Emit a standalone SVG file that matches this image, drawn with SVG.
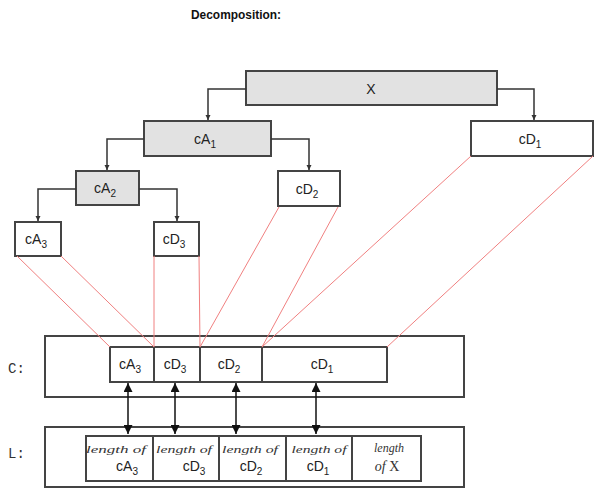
<svg xmlns="http://www.w3.org/2000/svg" width="595" height="489" viewBox="0 0 595 489">
<defs>
<marker id="ah" viewBox="0 0 10 10" refX="10" refY="5" markerWidth="5" markerHeight="6" orient="auto" markerUnits="userSpaceOnUse"><path d="M0,0 L10,5 L0,10 z" fill="#333"/></marker>
<marker id="bh" viewBox="0 0 10 10" refX="10" refY="5" markerWidth="10" markerHeight="9" orient="auto-start-reverse" markerUnits="userSpaceOnUse"><path d="M0,0 L10,5 L0,10 z" fill="#111"/></marker>
<style>
.g{fill:#e2e2e2;stroke:#444;stroke-width:2}
.w{fill:#fff;stroke:#444;stroke-width:2}
.t{font-family:"Liberation Sans Narrow","Liberation Sans",Arial,sans-serif;font-size:14px;fill:#222;text-anchor:middle}
.s{font-size:10px}
.c{fill:none;stroke:#333;stroke-width:1.5}
.r{stroke:#f08080;stroke-width:1;fill:none}
.d{stroke:#111;stroke-width:1.5;fill:none}
.i{font-family:"Liberation Serif",serif;font-style:italic;font-size:11px;fill:#333;text-anchor:middle}
.m{font-family:"Liberation Mono",monospace;font-size:14px;fill:#333}
</style>
</defs>
<rect width="595" height="489" fill="#fff"/>
<text x="236" y="19" font-family="Liberation Sans,Arial,sans-serif" font-weight="bold" font-size="12" text-anchor="middle" textLength="90" lengthAdjust="spacingAndGlyphs" fill="#111">Decomposition:</text>

<g id="X"><rect class="g" x="246" y="71" width="251" height="34"/><text class="t" x="371" y="94">X</text></g>
<g id="cA1"><rect class="g" x="144" y="121" width="127" height="35"/><text class="t" x="205" y="144">cA<tspan class="s" dy="4">1</tspan></text></g>
<g id="cD1"><rect class="w" x="471" y="121" width="122" height="35"/><text class="t" x="530" y="144">cD<tspan class="s" dy="4">1</tspan></text></g>
<g id="cA2"><rect class="g" x="76" y="171" width="63" height="34"/><text class="t" x="105" y="193">cA<tspan class="s" dy="4">2</tspan></text></g>
<g id="cD2"><rect class="w" x="278" y="171" width="62" height="35"/><text class="t" x="307" y="194">cD<tspan class="s" dy="4">2</tspan></text></g>
<g id="cA3"><rect class="w" x="15" y="222" width="46" height="34"/><text class="t" x="36" y="244">cA<tspan class="s" dy="4">3</tspan></text></g>
<g id="cD3"><rect class="w" x="154" y="222" width="45" height="34"/><text class="t" x="174" y="244">cD<tspan class="s" dy="4">3</tspan></text></g>

<g id="C">
<text class="m" x="8" y="373">C:</text>
<rect class="w" x="45" y="336" width="419" height="61"/>
<rect class="w" x="110" y="347" width="44" height="35"/>
<rect class="w" x="154" y="347" width="46" height="35"/>
<rect class="w" x="200" y="347" width="62" height="35"/>
<rect class="w" x="262" y="347" width="125" height="35"/>
<text class="t" x="130" y="369">cA<tspan class="s" dy="4">3</tspan></text>
<text class="t" x="175" y="369">cD<tspan class="s" dy="4">3</tspan></text>
<text class="t" x="229" y="369">cD<tspan class="s" dy="4">2</tspan></text>
<text class="t" x="322" y="369">cD<tspan class="s" dy="4">1</tspan></text>
</g>

<g id="L">
<text class="m" x="8" y="458">L:</text>
<rect class="w" x="45" y="427" width="419" height="60"/>
<rect class="w" x="86" y="436" width="67" height="45"/>
<rect class="w" x="153" y="436" width="66" height="45"/>
<rect class="w" x="219" y="436" width="67" height="45"/>
<rect class="w" x="286" y="436" width="66" height="45"/>
<rect class="w" x="352" y="436" width="69" height="45"/>
<text class="i" x="116" y="453" textLength="60" lengthAdjust="spacingAndGlyphs">length of</text>
<text class="t" x="127" y="471">cA<tspan class="s" dy="4">3</tspan></text>
<text class="i" x="184" y="453" textLength="56" lengthAdjust="spacingAndGlyphs">length of</text>
<text class="t" x="194" y="471">cD<tspan class="s" dy="4">3</tspan></text>
<text class="i" x="250" y="453" textLength="56" lengthAdjust="spacingAndGlyphs">length of</text>
<text class="t" x="251" y="471">cD<tspan class="s" dy="4">2</tspan></text>
<text class="i" x="319" y="453" textLength="55" lengthAdjust="spacingAndGlyphs">length of</text>
<text class="t" x="318" y="471">cD<tspan class="s" dy="4">1</tspan></text>
<text class="i" x="389" y="452" style="font-size:12px">length</text>
<text class="i" x="387" y="471" style="font-size:14px">of <tspan style="font-style:normal">X</tspan></text>
</g>

<g id="connectors">
<path class="c" d="M246,89 H208 V120" marker-end="url(#ah)"/>
<path class="c" d="M497,89 H534 V120" marker-end="url(#ah)"/>
<path class="c" d="M144,139 H107 V170" marker-end="url(#ah)"/>
<path class="c" d="M271,139 H309 V170" marker-end="url(#ah)"/>
<path class="c" d="M76,189 H38 V221" marker-end="url(#ah)"/>
<path class="c" d="M139,189 H177 V221" marker-end="url(#ah)"/>
<line class="r" x1="17" y1="256" x2="110" y2="347"/>
<line class="r" x1="61" y1="256" x2="154" y2="347"/>
<line class="r" x1="154" y1="256" x2="154" y2="347"/>
<line class="r" x1="199" y1="256" x2="200" y2="347"/>
<line class="r" x1="279" y1="207" x2="200" y2="347"/>
<line class="r" x1="338" y1="207" x2="262" y2="347"/>
<line class="r" x1="471" y1="156" x2="262" y2="347"/>
<line class="r" x1="593" y1="156" x2="387" y2="347"/>
<line class="d" x1="128" y1="383" x2="128" y2="434" marker-start="url(#bh)" marker-end="url(#bh)"/>
<line class="d" x1="175" y1="383" x2="175" y2="434" marker-start="url(#bh)" marker-end="url(#bh)"/>
<line class="d" x1="236" y1="383" x2="236" y2="434" marker-start="url(#bh)" marker-end="url(#bh)"/>
<line class="d" x1="316" y1="383" x2="316" y2="434" marker-start="url(#bh)" marker-end="url(#bh)"/>
</g>
</svg>
